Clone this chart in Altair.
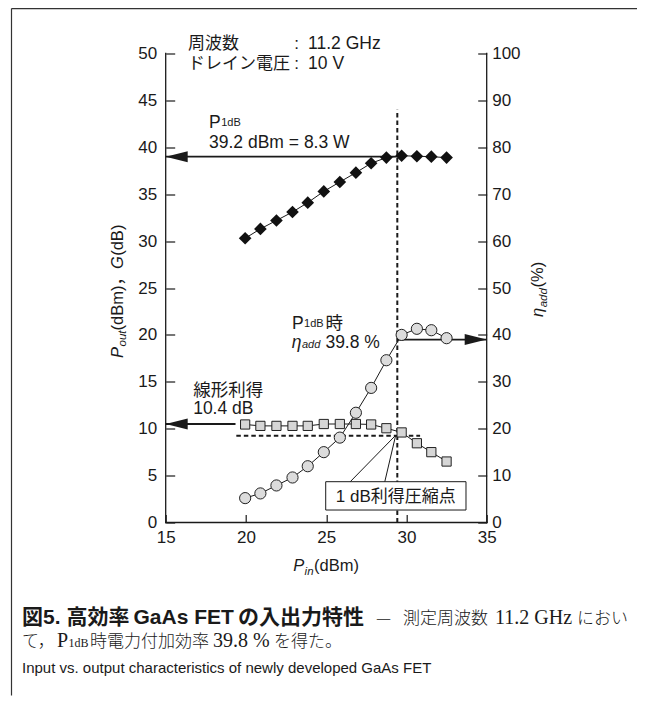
import altair as alt
import pandas as pd

# ---------------- data ----------------
pin_dbm = [19.95, 20.9, 21.9, 22.9, 23.85, 24.85, 25.85, 26.85, 27.8, 28.75, 29.7, 30.65, 31.55, 32.5]
pout_dbm = [30.3, 31.3, 32.2, 33.1, 34.1, 35.3, 36.3, 37.3, 38.3, 38.9, 39.1, 39.05, 39.0, 38.9]
gain_db = [10.45, 10.3, 10.3, 10.3, 10.3, 10.5, 10.5, 10.5, 10.45, 10.05, 9.6, 8.45, 7.5, 6.5]
eta_add = [5.2, 6.2, 7.9, 9.6, 12.0, 15.0, 18.1, 23.4, 28.7, 34.6, 40.0, 41.3, 41.0, 39.3]

x_ticks = [15, 20, 25, 30, 35]
left_ticks = [0, 5, 10, 15, 20, 25, 30, 35, 40, 45, 50]
right_ticks = [0, 10, 20, 30, 40, 50, 60, 70, 80, 90, 100]

p1db_pin = 29.43       # 1 dB compression input power (dBm)
p1db_level = 39.0      # P1dB arrow level (dBm)
lin_gain_level = 10.5  # linear gain arrow level (dB)
comp_gain_level = 9.25 # 1 dB compressed gain level (dB)
eta_level = 39.0       # efficiency arrow level (%)

# ---------------- styling ----------------
SANS = "Liberation Sans, Noto Sans CJK JP, sans-serif"
JP = "Noto Sans CJK JP, sans-serif"
SERIF = "Liberation Serif, Noto Sans CJK JP, serif"
INK = "#1a1a1a"

W, H = 321, 469
PAD = {"left": 157.7, "top": 45.5, "right": 150.3, "bottom": 173.5}

XS = alt.Scale(domain=[15, 35], nice=False, zero=False)
YL = alt.Scale(domain=[0, 50], nice=False, zero=False)
YR = alt.Scale(domain=[0, 100], nice=False, zero=False)

x_axis = alt.Axis(values=x_ticks, orient="bottom", offset=-8, tickSize=8, domain=False, grid=False,
                  labelPadding=7, labelFont=SANS, labelFontSize=17, labelColor=INK,
                  tickColor=INK, tickWidth=1.2, labelFlush=False, labelOverlap=False)
yl_axis = alt.Axis(values=left_ticks, orient="left", offset=-9, tickSize=9, domain=False, grid=False,
                   labelPadding=9, labelFont=SANS, labelFontSize=17, labelColor=INK,
                   tickColor=INK, tickWidth=1.2, labelFlush=False, labelOverlap=False)
yr_axis = alt.Axis(values=right_ticks, orient="right", offset=-9, tickSize=9, domain=False, grid=False,
                   labelPadding=5, labelFont=SANS, labelFontSize=17, labelColor=INK,
                   tickColor=INK, tickWidth=1.2, labelFlush=False, labelOverlap=False)

df = pd.DataFrame({"pin": pin_dbm, "pout": pout_dbm, "gain": gain_db, "eta": eta_add})
one = pd.DataFrame({"k": [0]})


# every layer carries the same axis definition so that the merged axes stay visible
def X(f):
    return alt.X(f, type="quantitative", scale=XS, axis=x_axis, title=None)


def YLe(f):
    return alt.Y(f, type="quantitative", scale=YL, axis=yl_axis, title=None)


def YRe(f):
    return alt.Y(f, type="quantitative", scale=YR, axis=yr_axis, title=None)


def dtext(txt, xv, yv, size=17.5, font=SANS, style="normal", align="left", dy=0):
    d = pd.DataFrame({"x": [xv], "y": [yv], "t": [txt]})
    return alt.Chart(d).mark_text(font=font, fontSize=size, fontStyle=style, align=align,
                                  baseline="middle", color=INK, dy=dy).encode(
        x=X("x"), y=YLe("y"), text="t:N")


def ptext(txt, x, y, size=16.5, font=SANS, style="normal", weight="normal", angle=0, dx=0, dy=0,
          align="left", baseline="alphabetic"):
    return alt.Chart(one).mark_text(text=txt, font=font, fontSize=size, fontStyle=style,
                                    fontWeight=weight, angle=angle, dx=dx, dy=dy, align=align,
                                    baseline=baseline, color=INK).encode(
        x=alt.value(x), y=alt.value(y))


ARROW_L = "M0,0L2,-0.5L2,0.5Z"
ARROW_R = "M0,0L-2,-0.5L-2,0.5Z"

# ---------------- left-scale layers ----------------
axis_lines = pd.DataFrame({"x": [15, 35, 15], "x2": [15, 35, 35], "y": [0, 0, 0], "y2": [50, 50, 0]})
l_axes = alt.Chart(axis_lines).mark_rule(color=INK, strokeWidth=1.3, strokeCap="square").encode(
    x=X("x"), x2="x2:Q", y=YLe("y"), y2="y2:Q")

dash_v = alt.Chart(pd.DataFrame({"x": [p1db_pin], "y": [0], "y2": [44]})).mark_rule(
    color=INK, strokeWidth=2, strokeDash=[4.5, 3]).encode(x=X("x"), y=YLe("y"), y2="y2:Q")
dash_h = alt.Chart(pd.DataFrame({"x": [19.4], "x2": [30.85], "y": [comp_gain_level]})).mark_rule(
    color=INK, strokeWidth=2, strokeDash=[4.5, 3]).encode(x=X("x"), x2="x2:Q", y=YLe("y"))

pout_line = alt.Chart(df).mark_line(color=INK, strokeWidth=1).encode(x=X("pin"), y=YLe("pout"))
gain_line = alt.Chart(df).mark_line(color=INK, strokeWidth=1).encode(x=X("pin"), y=YLe("gain"))

arrows_l = pd.DataFrame({"x": [15, 15], "x2": [p1db_pin, 19.35], "y": [p1db_level, lin_gain_level]})
arrow_lines_l = alt.Chart(arrows_l).mark_rule(color=INK, strokeWidth=1.8).encode(
    x=X("x"), x2="x2:Q", y=YLe("y"))
arrow_heads_l = alt.Chart(arrows_l).mark_point(shape=ARROW_L, size=484, filled=True, color=INK,
                                               opacity=1, strokeWidth=0).encode(x=X("x"), y=YLe("y"))

diamonds = alt.Chart(df).mark_point(shape="diamond", filled=True, color="#111111", size=160,
                                    opacity=1, strokeWidth=0).encode(x=X("pin"), y=YLe("pout"))
squares = alt.Chart(df).mark_point(shape="square", filled=True, fill="#d6d6d6", stroke="#222222",
                                   strokeWidth=1, size=85, opacity=1).encode(x=X("pin"), y=YLe("gain"))

box = alt.Chart(pd.DataFrame({"x": [24.97], "x2": [33.71], "y": [1.33], "y2": [4.35]})).mark_rect(
    fill="white", stroke=INK, strokeWidth=1).encode(x=X("x"), x2="x2:Q", y=YLe("y"), y2="y2:Q")
leaders = alt.Chart(pd.DataFrame({"x": [26.5, 28.65], "y": [4.35, 4.35], "x2": [29.33, 29.33],
                                  "y2": [9.3, 9.3]})).mark_rule(color=INK, strokeWidth=1).encode(
    x=X("x"), x2="x2:Q", y=YLe("y"), y2="y2:Q")

annotations = [
    dtext("周波数", 16.39, 51.0, size=17),
    dtext(":", 23.16, 51.0, size=17, align="center"),
    dtext("11.2 GHz", 23.87, 51.0, size=17.5),
    dtext("ドレイン電圧", 16.39, 48.88, size=17),
    dtext(":", 23.16, 48.88, size=17, align="center"),
    dtext("10 V", 23.87, 48.88, size=17.5),
    dtext("P", 17.7, 42.62),
    dtext("1dB", 18.46, 42.62, size=11),
    dtext("39.2 dBm = 8.3 W", 17.7, 40.45),
    dtext("線形利得", 16.71, 14.02),
    dtext("10.4 dB", 16.71, 12.05),
    dtext("P", 22.87, 21.12),
    dtext("1dB", 23.62, 21.12, size=11),
    dtext("時", 24.95, 21.12),
    dtext("η", 22.85, 19.15, style="italic"),
    dtext("add", 23.49, 19.15, size=11, style="italic", dy=2),
    dtext("39.8 %", 24.95, 19.15),
    dtext("1 dB利得圧縮点", 29.34, 2.72, size=17, align="center"),
]

# axis titles, caption and frame (pixel positions relative to the plot area)
titles = [
    # left title, rotated
    ptext("P", -43, 304.5, angle=270, style="italic"),
    ptext("out", -43, 304.5, size=11.5, angle=270, style="italic", dx=11.5, dy=3.5),
    ptext("(dBm)", -43, 304.5, angle=270, dx=27.5),
    ptext("，", -43, 304.5, angle=270, dx=72.4, font=JP),
    ptext("G", -43, 304.5, angle=270, style="italic", dx=88.9),
    ptext("(dB)", -43, 304.5, angle=270, dx=102.2),
    # right title
    ptext("η", 377.7, 263.5, angle=270, style="italic"),
    ptext("add", 377.7, 263.5, size=11.5, angle=270, style="italic", dx=9.7, dy=3.5),
    ptext("(%)", 377.7, 263.5, angle=270, dx=29.5),
    # x title
    ptext("P", 127.6, 517.5, style="italic"),
    ptext("in", 127.6, 517.5, size=11.5, style="italic", dx=11.3, dy=3.5),
    ptext("(dBm)", 127.6, 517.5, dx=20.7),
    # caption line 1 (justified across the width)
    ptext("図5.", -143.7, 570.2, size=21, weight="bold"),
    ptext("高効率", -99.2, 570.2, size=21, weight="bold"),
    ptext("GaAs FET", -32.2, 570.2, size=21, weight="bold"),
    ptext("の入出力特性", 72.3, 570.2, size=21, weight="bold"),
    ptext("—", 210.3, 570.2, size=17, font=JP, weight=300),
    ptext("測定周波数", 237.3, 570.2, size=17, font=JP, weight=300),
    ptext("11.2 GHz", 329.3, 570.2, size=20, font=SERIF),
    ptext("におい", 411.3, 570.2, size=17, font=JP, weight=300),
    # caption line 2
    ptext("て，", -143.7, 593.5, size=17, font=JP, weight=300),
    ptext("P", -108.7, 593.5, size=20, font=SERIF),
    ptext("1dB", -97.2, 593.5, size=12, font=SERIF),
    ptext("時電力付加効率", -75.7, 593.5, size=17, font=JP, weight=300),
    ptext("39.8 %", 47.3, 593.5, size=20, font=SERIF),
    ptext("を得た。", 108.3, 593.5, size=17, font=JP, weight=300),
    # caption line 3
    ptext("Input vs. output characteristics of newly developed GaAs FET", -143.7, 619, size=15),
]

frame_top = alt.Chart(one).mark_rule(color="#333333", strokeWidth=1.2).encode(
    x=alt.value(-154.2), x2=alt.value(471.3), y=alt.value(-44.9))
frame_left = alt.Chart(one).mark_rule(color="#333333", strokeWidth=1.2).encode(
    x=alt.value(-154.2), y=alt.value(-44.9), y2=alt.value(642))

left_group = alt.layer(
    l_axes, dash_v, dash_h, pout_line, gain_line, arrow_lines_l, arrow_heads_l,
    diamonds, squares, box, leaders, *annotations, *titles, frame_top, frame_left
)

# ---------------- right-scale layers ----------------
eta_line = alt.Chart(df).mark_line(color=INK, strokeWidth=1).encode(x=X("pin"), y=YRe("eta"))
arrow_r = pd.DataFrame({"x": [p1db_pin], "x2": [35], "y": [eta_level]})
arrow_line_r = alt.Chart(arrow_r).mark_rule(color=INK, strokeWidth=1.8).encode(
    x=X("x"), x2="x2:Q", y=YRe("y"))
arrow_head_r = alt.Chart(arrow_r).mark_point(shape=ARROW_R, size=484, filled=True, color=INK,
                                             opacity=1, strokeWidth=0).encode(x=X("x2"), y=YRe("y"))
circles = alt.Chart(df).mark_point(shape="circle", filled=True, fill="#dcdcdc", stroke="#222222",
                                   strokeWidth=1, size=125, opacity=1).encode(x=X("pin"), y=YRe("eta"))

right_group = alt.layer(eta_line, arrow_line_r, arrow_head_r, circles)

chart = alt.layer(left_group, right_group).resolve_scale(y="independent").properties(
    width=W, height=H, padding=PAD, autosize=alt.AutoSizeParams(type="none"),
    background="white"
).configure_view(stroke=None)

chart.save("out.html", embed_options={"renderer": "svg", "actions": False})
